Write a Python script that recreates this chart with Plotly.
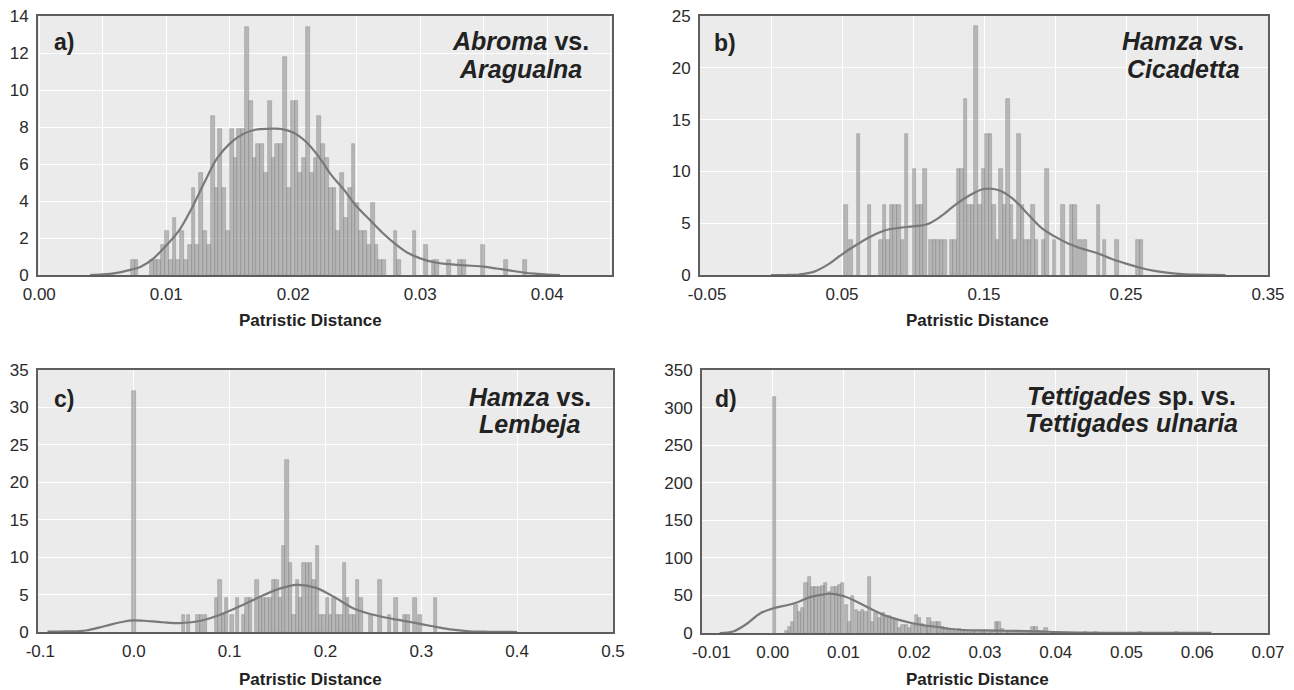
import plotly.graph_objects as go

# ---------------- data ----------------
# Panel a: Abroma vs. Aragualna
a_bin_centers = [0.00735, 0.00765, 0.00885, 0.00915, 0.00945, 0.00975, 0.01005, 0.01035, 0.01065, 0.01095,
                 0.01125, 0.01155, 0.01185, 0.01215, 0.01245, 0.01275, 0.01305, 0.01335, 0.01365, 0.01395,
                 0.01425, 0.01455, 0.01485, 0.01515, 0.01545, 0.01575, 0.01605, 0.01635, 0.01665, 0.01695,
                 0.01725, 0.01755, 0.01785, 0.01815, 0.01845, 0.01875, 0.01905, 0.01935, 0.01965, 0.01995,
                 0.02025, 0.02055, 0.02085, 0.02115, 0.02145, 0.02175, 0.02205, 0.02235, 0.02265, 0.02295,
                 0.02325, 0.02355, 0.02385, 0.02415, 0.02445, 0.02475, 0.02505, 0.02535, 0.02565, 0.02595,
                 0.02625, 0.02655, 0.02685, 0.02715, 0.02805, 0.02835, 0.02955, 0.03045, 0.03105, 0.03135,
                 0.03225, 0.03315, 0.03345, 0.03495, 0.03675, 0.03825]
a_density = [0.8, 0.8, 0.8, 0.8, 0.8, 1.6, 2.4, 0.8, 3.1, 0.8,
             2.4, 0.8, 1.6, 4.7, 1.6, 5.5, 2.4, 1.6, 8.6, 4.7,
             7.9, 4.7, 2.4, 7.9, 6.3, 7.9, 7.9, 13.4, 9.4, 6.3,
             7.1, 7.1, 5.5, 9.4, 6.3, 7.1, 7.1, 11.8, 4.7, 9.4,
             9.4, 5.5, 6.3, 13.4, 5.5, 6.3, 8.6, 7.1, 6.3, 4.7,
             4.7, 2.4, 5.5, 3.1, 4.7, 7.1, 3.9, 2.4, 2.4, 1.6,
             3.9, 1.6, 0.8, 0.8, 2.4, 0.8, 2.4, 1.6, 0.8, 0.8,
             0.8, 0.8, 0.8, 1.6, 0.8, 0.8]
a_kde_x = [0.004, 0.005, 0.006, 0.007, 0.008, 0.009, 0.010, 0.011, 0.012, 0.013, 0.014, 0.015, 0.016,
           0.017, 0.018, 0.019, 0.020, 0.021, 0.022, 0.023, 0.024, 0.025, 0.026, 0.027, 0.028, 0.029,
           0.030, 0.031, 0.032, 0.033, 0.034, 0.035, 0.036, 0.037, 0.038, 0.039, 0.040, 0.041]
a_kde_y = [0.0, 0.03, 0.1, 0.25, 0.45, 0.9, 1.6, 2.4, 3.6, 5.0, 6.3, 7.1, 7.6,
           7.85, 7.9, 7.9, 7.7, 7.2, 6.4, 5.4, 4.6, 3.7, 3.0, 2.3, 1.7, 1.2,
           0.9, 0.7, 0.6, 0.55, 0.5, 0.45, 0.35, 0.25, 0.15, 0.07, 0.02, 0.0]

# Panel b: Hamza vs. Cicadetta
b_bin_centers = [0.053, 0.0565, 0.0615, 0.0695, 0.0775, 0.080, 0.0825, 0.085, 0.0875, 0.090,
                 0.0925, 0.0955, 0.101, 0.1035, 0.106, 0.1085, 0.1125, 0.115, 0.1175, 0.120,
                 0.1225, 0.127, 0.1295, 0.132, 0.1345, 0.137, 0.1395, 0.142, 0.1445, 0.147,
                 0.1495, 0.152, 0.1545, 0.157, 0.1595, 0.162, 0.1645, 0.167, 0.1695, 0.172,
                 0.1745, 0.177, 0.1795, 0.182, 0.1845, 0.187, 0.192, 0.1945, 0.1995, 0.2055,
                 0.2115, 0.214, 0.2175, 0.221, 0.2305, 0.235, 0.2435, 0.2585, 0.261]
b_density = [6.8, 3.4, 13.6, 6.8, 3.4, 6.8, 3.4, 6.8, 6.8, 6.8,
             3.4, 13.6, 10.2, 6.8, 6.8, 10.2, 3.4, 3.4, 3.4, 3.4,
             3.4, 3.4, 3.4, 10.2, 10.2, 17.0, 6.8, 6.8, 24.0, 6.8,
             10.2, 13.6, 13.6, 6.8, 3.4, 10.2, 6.8, 17.0, 6.8, 3.4,
             13.6, 6.8, 3.4, 3.4, 6.8, 3.4, 3.4, 10.2, 3.4, 6.8,
             6.8, 6.8, 3.4, 3.4, 6.8, 3.4, 3.4, 3.4, 3.4]
b_kde_x = [0.0, 0.01, 0.02, 0.03, 0.04, 0.05, 0.06, 0.07, 0.08, 0.09, 0.10, 0.11, 0.12, 0.13, 0.14,
           0.15, 0.16, 0.17, 0.18, 0.19, 0.20, 0.21, 0.22, 0.23, 0.24, 0.25, 0.26, 0.27, 0.28, 0.29,
           0.30, 0.31, 0.32]
b_kde_y = [0.0, 0.0, 0.05, 0.3, 1.0, 2.0, 2.9, 3.7, 4.3, 4.55, 4.7, 4.9, 5.7, 6.8, 7.7,
           8.3, 8.2, 7.4, 6.0, 4.6, 3.7, 3.0, 2.5, 2.1, 1.55, 1.1, 0.7, 0.4, 0.2, 0.08,
           0.03, 0.01, 0.0]

# Panel c: Hamza vs. Lembeja
c_bin_centers = [0.0, 0.0515, 0.057, 0.067, 0.0705, 0.0745, 0.0865, 0.090, 0.0935, 0.097,
                 0.1025, 0.1085, 0.1145, 0.118, 0.1215, 0.1285, 0.132, 0.1355, 0.139, 0.1425,
                 0.146, 0.1495, 0.153, 0.1565, 0.160, 0.1635, 0.167, 0.1705, 0.174, 0.1775,
                 0.181, 0.1845, 0.188, 0.1915, 0.195, 0.1985, 0.202, 0.2055, 0.209, 0.2125,
                 0.216, 0.2195, 0.223, 0.2265, 0.230, 0.2335, 0.237, 0.2475, 0.257, 0.2665,
                 0.2735, 0.2825, 0.286, 0.2935, 0.2985, 0.3145]
c_density = [32.2, 2.3, 2.3, 2.3, 2.3, 2.3, 4.6, 6.9, 2.3, 4.6,
             2.3, 4.6, 2.3, 4.6, 4.6, 6.9, 4.6, 4.6, 4.6, 4.6,
             6.9, 6.9, 4.6, 11.5, 23.0, 9.2, 2.3, 6.9, 4.6, 9.2,
             9.2, 9.2, 6.9, 11.5, 2.3, 2.3, 4.6, 2.3, 4.6, 2.3,
             2.3, 9.2, 4.6, 2.3, 2.3, 6.9, 4.6, 2.3, 6.9, 2.3,
             4.6, 2.3, 2.3, 4.6, 2.3, 4.6]
c_kde_x = [-0.09, -0.07, -0.05, -0.03, -0.01, 0.0, 0.01, 0.03, 0.05, 0.07, 0.09, 0.11, 0.13,
           0.15, 0.17, 0.19, 0.21, 0.23, 0.25, 0.27, 0.29, 0.31, 0.33, 0.35, 0.37, 0.40]
c_kde_y = [0.05, 0.08, 0.2, 0.8, 1.4, 1.55, 1.5, 1.3, 1.2, 1.5, 2.3, 3.4, 4.6,
           5.7, 6.3, 5.9, 4.6, 3.1, 2.3, 1.75, 1.3, 0.8, 0.35, 0.1, 0.03, 0.0]

# Panel d: Tettigades sp. vs. Tettigades ulnaria
d_bin_centers = [0.0002, 0.0019, 0.0024, 0.0028, 0.0033, 0.0038, 0.0042, 0.0047, 0.0052, 0.0057,
                 0.0061, 0.0066, 0.0071, 0.0075, 0.0080, 0.0085, 0.0090, 0.0094, 0.0099, 0.0104,
                 0.0108, 0.0113, 0.0118, 0.0123, 0.0127, 0.0132, 0.0137, 0.0141, 0.0146, 0.0151,
                 0.0156, 0.0160, 0.0165, 0.0170, 0.0174, 0.0179, 0.0184, 0.0189, 0.0193, 0.0198,
                 0.0203, 0.0207, 0.0212, 0.0217, 0.0221, 0.0226, 0.0231, 0.0235, 0.0240, 0.0245,
                 0.0250, 0.0254, 0.0259, 0.0264, 0.0268, 0.0273, 0.0278, 0.0283, 0.0287, 0.0292,
                 0.0297, 0.0301, 0.0306, 0.0311, 0.0316, 0.0320, 0.0325, 0.0330, 0.0334, 0.0339,
                 0.0344, 0.0349, 0.0353, 0.0358, 0.0363, 0.0368, 0.0372, 0.0377, 0.0382, 0.0386,
                 0.0442, 0.0456, 0.0519, 0.0571]
d_density = [314, 3, 8, 15, 37, 28, 33, 66, 74, 61,
             61, 61, 63, 66, 55, 61, 61, 64, 66, 37,
             15, 49, 30, 28, 30, 28, 74, 15, 26, 20,
             26, 22, 22, 18, 18, 7, 10, 10, 7, 10,
             24, 20, 12, 8, 20, 15, 15, 15, 8, 5,
             5, 5, 3, 5, 3, 3, 2, 3, 2, 2,
             3, 2, 2, 2, 15, 15, 5, 3, 3, 3,
             2, 2, 2, 2, 2, 8, 8, 3, 2, 7,
             2, 2, 2, 2]
d_kde_x = [-0.0075, -0.0056, -0.0037, -0.0018, 0.0001, 0.002, 0.0035, 0.0054, 0.0073, 0.008,
           0.0101, 0.012, 0.0139, 0.0158, 0.0177, 0.0196, 0.0214, 0.0233, 0.0252, 0.027,
           0.030, 0.033, 0.036, 0.038, 0.040, 0.043, 0.047, 0.055, 0.062]
d_kde_y = [0, 2, 12, 26, 33, 37, 41, 48, 51.5, 52.4,
           49, 41, 32, 23.5, 17.8, 13.3, 10.2, 8, 5.3, 4.0,
           3.4, 3.0, 2.6, 2.1, 1.2, 0.5, 0.3, 0.2, 0.1]

# tick labels
NB = "\u00a0"
a_xlabels = ["0.00", "", "0.01", "", "0.02", "", "0.03", "", "0.04", ""]
b_xlabels = [NB * 3 + "-0.05", "", "0.05", "", "0.15", "", "0.25", "", "0.35"]
c_xlabels = [NB + "-0.1", "0.0", "0.1", "0.2", "0.3", "0.4", "0.5"]
d_xlabels = [NB * 4 + "-0.01", "0.00", "0.01", "0.02", "0.03", "0.04", "0.05", "0.06", "0.07"]

# ---------------- figure ----------------
# The page body has an 8 px margin, so the figure is drawn 8 px in from the
# window's top-left corner; pixel positions below are window positions.
OFF = 8
W, H = 1294 - OFF, 690 - OFF
FONT = "Liberation Sans, Arial, Helvetica, sans-serif"
TXT = "#2a2a2a"
BAR_FILL = "rgba(150,150,150,0.62)"
BAR_LINE = "rgba(125,125,125,0.55)"
KDE_COLOR = "#797979"


def px_x(x):
    return (x - OFF) / W


def px_y(y):
    return 1 - (y - OFF) / H


panels = [
    dict(key="", plot=(38, 612, 16, 275), xr=[-0.0001, 0.0451], yr=[0, 14],
         xt=[0.0, 0.005, 0.01, 0.015, 0.02, 0.025, 0.03, 0.035, 0.04, 0.045],
         xl=a_xlabels, yd=2,
         xs=a_bin_centers, ys=a_density, w=0.0003, kx=a_kde_x, ky=a_kde_y),
    dict(key="2", plot=(700, 1268, 16, 275), xr=[-0.05, 0.35], yr=[0, 25],
         xt=[-0.05, 0.0, 0.05, 0.10, 0.15, 0.20, 0.25, 0.30, 0.35],
         xl=b_xlabels, yd=5,
         xs=b_bin_centers, ys=b_density, w=0.0025, kx=b_kde_x, ky=b_kde_y),
    dict(key="3", plot=(38, 613, 370, 632), xr=[-0.1, 0.5], yr=[0, 35],
         xt=[-0.1, 0.0, 0.1, 0.2, 0.3, 0.4, 0.5],
         xl=c_xlabels, yd=5,
         xs=c_bin_centers, ys=c_density, w=0.0035, kx=c_kde_x, ky=c_kde_y),
    dict(key="4", plot=(702, 1268, 370, 633), xr=[-0.01, 0.07], yr=[0, 350],
         xt=[-0.01, 0.0, 0.01, 0.02, 0.03, 0.04, 0.05, 0.06, 0.07],
         xl=d_xlabels, yd=50,
         xs=d_bin_centers, ys=d_density, w=0.00047, kx=d_kde_x, ky=d_kde_y),
]

fig = go.Figure()
layout = dict(
    template="none",
    width=W, height=H, margin=dict(l=0, r=0, t=0, b=0, autoexpand=False),
    paper_bgcolor="white", plot_bgcolor="#EBEBEB", showlegend=False,
    font=dict(family=FONT, color=TXT), bargap=0,
)

for p in panels:
    k = p["key"]
    x0, x1, y0, y1 = p["plot"]
    xa = "x" + k
    ya = "y" + k
    fig.add_trace(go.Bar(x=p["xs"], y=p["ys"], width=p["w"],
                         marker=dict(color=BAR_FILL, line=dict(color=BAR_LINE, width=0.7)),
                         xaxis=xa, yaxis=ya, hoverinfo="skip"))
    fig.add_trace(go.Scatter(x=p["kx"], y=p["ky"], mode="lines",
                             line=dict(color=KDE_COLOR, width=2.2, shape="spline", smoothing=1.0),
                             xaxis=xa, yaxis=ya, hoverinfo="skip"))
    common = dict(showgrid=True, gridcolor="white", gridwidth=1.4, zeroline=False,
                  showline=True, linecolor="#5e5e5e", linewidth=2, mirror=True, automargin=False,
                  ticks="", ticklabeloverflow="allow",
                  tickfont=dict(size=17, color=TXT, family=FONT))
    layout["xaxis" + k] = dict(domain=[px_x(x0), px_x(x1)], range=p["xr"], anchor=ya,
                               tickmode="array", tickvals=p["xt"], ticktext=p["xl"],
                               ticklabelstandoff=3, **common)
    layout["yaxis" + k] = dict(domain=[px_y(y1), px_y(y0)], range=p["yr"], anchor=xa,
                               tickmode="linear", tick0=0, dtick=p["yd"], ticklabelstandoff=4, **common)

fig.update_layout(**layout)

ann = []


def add_text(text, x, y, size, xanchor="center"):
    ann.append(dict(text=text, x=px_x(x), y=px_y(y), xref="paper", yref="paper",
                    xanchor=xanchor, yanchor="middle", showarrow=False,
                    font=dict(size=size, family=FONT, color="#222222")))


# axis titles
for cx, cy in [(310, 320), (977, 320), (310, 679), (977, 679)]:
    add_text("<b>Patristic Distance</b>", cx, cy, 17)

# panel letters
for lab, lx, ly in [("a)", 52, 42), ("b)", 712, 43), ("c)", 52, 399), ("d)", 713, 399)]:
    add_text("<b>" + lab + "</b>", lx, ly, 23, xanchor="left")

# comparison titles
titles = [
    ("<b><i>Abroma</i> vs.</b>", "<b><i>Aragualna</i></b>", 520, 41, 69),
    ("<b><i>Hamza</i> vs.</b>", "<b><i>Cicadetta</i></b>", 1183, 41, 69),
    ("<b><i>Hamza</i> vs.</b>", "<b><i>Lembeja</i></b>", 530, 397, 424),
    ("<b><i>Tettigades</i> sp. vs.</b>", "<b><i>Tettigades ulnaria</i></b>", 1131, 396, 423),
]
for l1, l2, cx, y1, y2 in titles:
    add_text(l1, cx, y1, 25)
    add_text(l2, cx, y2, 25)

fig.update_layout(annotations=ann)
fig.write_html("out.html")
